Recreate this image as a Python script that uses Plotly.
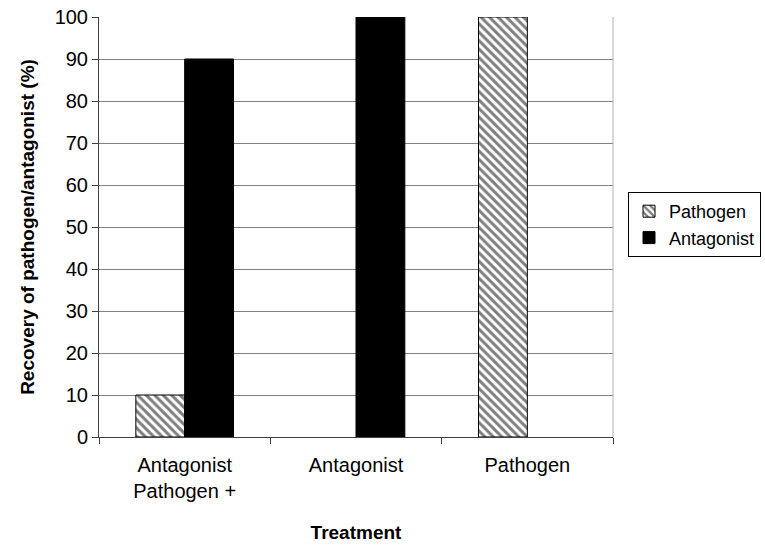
import plotly.graph_objects as go

# Treatment groups and recovery percentages
treatments = ["Antagonist<br>Pathogen +", "Antagonist", "Pathogen"]
pathogen_recovery = [10, 0, 100]
antagonist_recovery = [90, 100, 0]
y_ticks = list(range(0, 101, 10))

FONT = "'Liberation Sans', Arial, sans-serif"


def nonzero(values):
    # zero-height bars are left undrawn
    return [v if v else None for v in values]


fig = go.Figure()
fig.add_trace(go.Bar(
    name="Pathogen",
    x=treatments,
    y=nonzero(pathogen_recovery),
    marker=dict(
        color="white",
        line=dict(color="black", width=1),
        pattern=dict(shape="\\", fgcolor="black", bgcolor="white", size=6, solidity=0.5),
    ),
))
fig.add_trace(go.Bar(
    name="Antagonist",
    x=treatments,
    y=nonzero(antagonist_recovery),
    marker=dict(color="black", line=dict(color="black", width=1)),
))

fig.update_layout(
    width=765,
    height=550,
    margin=dict(l=99, r=152, t=17, b=113, autoexpand=False),
    paper_bgcolor="white",
    plot_bgcolor="white",
    barmode="group",
    bargap=0.43,
    bargroupgap=0,
    font=dict(family=FONT, size=20, color="black"),
    showlegend=True,
    legend=dict(
        xref="container", yref="container",
        x=628 / 765, y=1 - 192 / 550, xanchor="left", yanchor="top",
        bordercolor="black", borderwidth=1,
        font=dict(size=18),
        tracegroupgap=8,
        itemwidth=30,
    ),
)

fig.update_xaxes(
    title=dict(text="<b>Treatment</b>", font=dict(size=19), standoff=24),
    showline=True, linecolor="#404040", linewidth=1,
    ticks="outside", ticklen=6, tickcolor="#404040",
    ticklabelstandoff=10,
    tickson="boundaries",
    showgrid=False,
    automargin=False,
)
fig.update_yaxes(
    title=dict(text="<b>Recovery of pathogen/antagonist (%)</b>", font=dict(size=19), standoff=14),
    range=[0, 100],
    tickvals=y_ticks,
    showline=True, linecolor="#404040", linewidth=1,
    ticks="outside", ticklen=6, tickcolor="#404040",
    showgrid=True, gridcolor="#808080", gridwidth=1,
    zeroline=False,
    automargin=False,
)

# Light right-hand border of the plot area
fig.add_shape(type="line", xref="paper", yref="paper", x0=1, x1=1, y0=0, y1=1,
              line=dict(color="#b0b0b0", width=1))

fig.write_html("out.html")
